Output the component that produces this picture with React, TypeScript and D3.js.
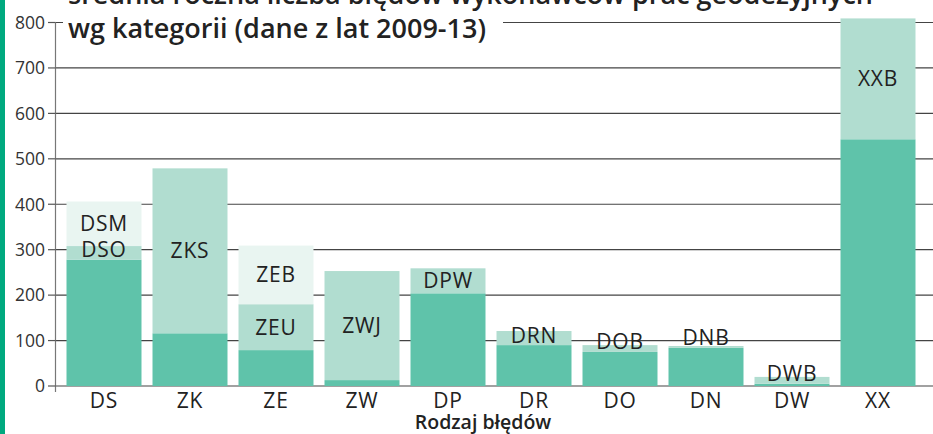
import React from "react";
import * as d3 from "d3";

const categories = ["DS", "ZK", "ZE", "ZW", "DP", "DR", "DO", "DN", "DW", "XX"];
const baseValues = [278, 116, 79, 13, 204, 90, 75, 84, 5, 543];
const midValues = [30, 363, 101, 240, 55, 31, 15, 4, 15, 266];
const midLabels = ["DSO", "ZKS", "ZEU", "ZWJ", "DPW", "DRN", "DOB", "DNB", "DWB", "XXB"];
const topValues = [98, 0, 129, 0, 0, 0, 0, 0, 0, 0];
const topLabels = ["DSM", "", "ZEB", "", "", "", "", "", "", ""];
const yTicks = [0, 100, 200, 300, 400, 500, 600, 700, 800];
const titleLines = [
  "średnia roczna liczba błędów wykonawców prac geodezyjnych",
  "wg kategorii (dane z lat 2009-13)",
];
const axisTitle = "Rodzaj błędów";

const W = 933;
const H = 434;
const FONT = "'Open Sans', 'Noto Sans', sans-serif";
const COLORS = ["#5fc3aa", "#b1ddd0", "#e9f5f1"];

export default function App() {
  const x = d3.scaleBand<string>().domain(categories).range([61, 921]).paddingInner(0.128).paddingOuter(0.064);
  const y = d3.scaleLinear().domain([0, 800]).range([386, 22.5]);
  const axisX = 55.5;

  const segs: { cat: string; i: number; y0: number; y1: number; color: string; label: string }[] = [];
  categories.forEach((c, i) => {
    const a = baseValues[i];
    const b = a + midValues[i];
    const t = b + topValues[i];
    segs.push({ cat: c, i, y0: 0, y1: a, color: COLORS[0], label: "" });
    if (midValues[i] > 0) segs.push({ cat: c, i, y0: a, y1: b, color: COLORS[1], label: midLabels[i] });
    if (topValues[i] > 0) segs.push({ cat: c, i, y0: b, y1: t, color: COLORS[2], label: topLabels[i] });
  });

  return (
    <svg width={W} height={H} style={{ position: "fixed", left: 0, top: 0, background: "#fff" }} fontFamily={FONT}>
      <rect x={0} y={0} width={W} height={H} fill="#fff" />
      <rect x={0} y={0} width={5} height={H} fill="#00a97f" />
      {yTicks.map((t) => (
        <line key={"g" + t} x1={axisX} x2={W} y1={y(t)} y2={y(t)} stroke="#444" strokeWidth={1.2} />
      ))}
      {segs.map((s, k) => (
        <rect key={"b" + k} x={x(s.cat)} width={x.bandwidth()} y={y(s.y1)} height={y(s.y0) - y(s.y1)} fill={s.color} />
      ))}
      {segs.filter((s) => s.label).map((s, k) => {
        const center = (y(s.y0) + y(s.y1)) / 2;
        const ly = Math.min(center, y(s.y0) - 10);
        return (
          <text key={"l" + k} x={(x(s.cat) as number) + x.bandwidth() / 2} y={ly} dy="0.36em" textAnchor="middle" fontSize={21} letterSpacing={0.8} fill="#222">
            {s.label}
          </text>
        );
      })}
      <line x1={axisX} x2={axisX} y1={y(800)} y2={392} stroke="#777" strokeWidth={1.2} />
      {yTicks.map((t) => (
        <g key={"t" + t}>
          <line x1={48} x2={axisX} y1={y(t)} y2={y(t)} stroke="#555" strokeWidth={1.2} />
          <text x={45} y={y(t)} dy="0.36em" textAnchor="end" fontSize={17.5} fill="#333">
            {t}
          </text>
        </g>
      ))}
      {categories.map((c) => (
        <text key={"c" + c} x={(x(c) as number) + x.bandwidth() / 2} y={408} textAnchor="middle" fontSize={21} letterSpacing={0.8} fill="#222">
          {c}
        </text>
      ))}
      <text x={483} y={429} textAnchor="middle" fontSize={19.5} fontWeight={600} fill="#222">
        {axisTitle}
      </text>
      <rect x={63} y={0} width={440} height={47} fill="#fff" />
      {titleLines.map((t, i) => (
        <text key={"ti" + i} x={68} y={4 + i * 34} fontSize={27} fontWeight={600} fill="#222">
          {t}
        </text>
      ))}
    </svg>
  );
}
